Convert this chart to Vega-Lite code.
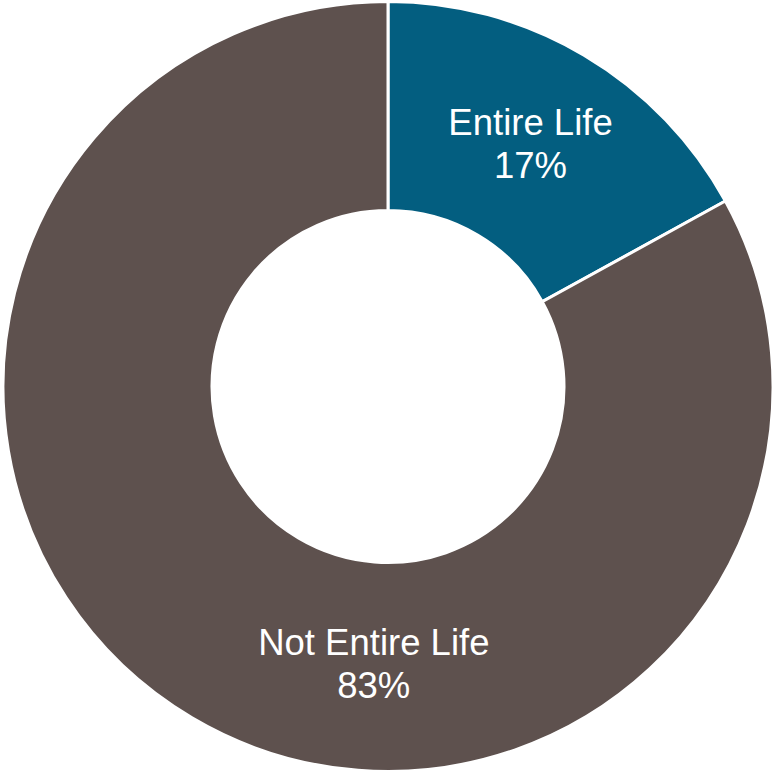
{
  "$schema": "https://vega.github.io/schema/vega-lite/v6.json",
  "autosize": {"type": "fit", "contains": "padding"},
  "width": 776,
  "height": 773,
  "padding": 0,
  "background": "white",
  "config": {"view": {"stroke": null}},
  "data": {
    "values": [
      {"category": "Entire Life", "value": 17, "label": "Entire Life\n17%", "order": 1},
      {"category": "Not Entire Life", "value": 83, "label": "Not Entire Life\n83%", "order": 2}
    ]
  },
  "encoding": {
    "theta": {"field": "value", "type": "quantitative", "stack": true},
    "order": {"field": "order", "type": "quantitative"}
  },
  "layer": [
    {
      "mark": {"type": "arc", "outerRadius": 385, "innerRadius": 176, "stroke": "white", "strokeWidth": 3},
      "encoding": {
        "color": {
          "field": "category",
          "type": "nominal",
          "scale": {"domain": ["Entire Life", "Not Entire Life"], "range": ["#035e80", "#5e514e"]},
          "legend": null
        }
      }
    },
    {
      "transform": [{"filter": "datum.category == 'Entire Life'"}],
      "mark": {"type": "text", "radius": 280, "dy": -21.5, "lineBreak": "\n", "fontSize": 36.5, "lineHeight": 43, "font": "Liberation Sans", "color": "white", "align": "center", "baseline": "middle"},
      "encoding": {"text": {"field": "label", "type": "nominal"}}
    },
    {
      "transform": [{"filter": "datum.category == 'Not Entire Life'"}],
      "mark": {"type": "text", "radius": 279, "dy": -21.5, "thetaOffset": 0.585, "lineBreak": "\n", "fontSize": 36.5, "lineHeight": 43, "font": "Liberation Sans", "color": "white", "align": "center", "baseline": "middle"},
      "encoding": {"text": {"field": "label", "type": "nominal"}}
    }
  ]
}
